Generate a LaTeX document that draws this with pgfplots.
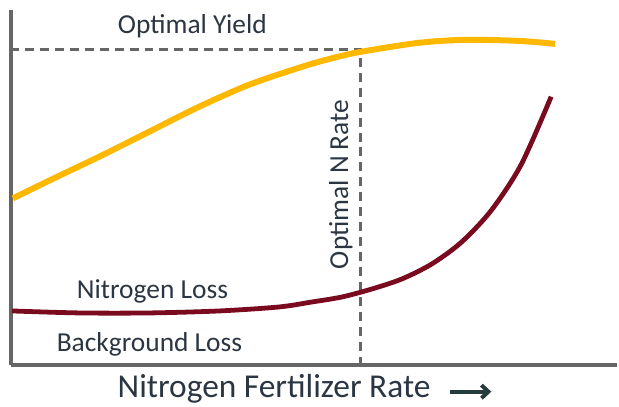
\documentclass[border=0pt]{standalone}
\usepackage{pgfplots}
\pgfplotsset{compat=1.18}
\usetikzlibrary{arrows.meta}
\usepackage{fontspec}
\setmainfont{Carlito}
\definecolor{ygold}{HTML}{FFB800}
\definecolor{nred}{HTML}{7A0A1E}
\definecolor{axgray}{HTML}{666666}
\definecolor{txt}{HTML}{2B3642}
\definecolor{arr}{HTML}{253B3D}
\begin{document}
\begin{tikzpicture}
\begin{axis}[
  scale only axis, width=608pt, height=356pt,
  xmin=0, xmax=608, ymin=0, ymax=356,
  axis x line=bottom, axis y line=left,
  axis line style={-, draw=axgray, line width=4.2pt},
  xtick=\empty, ytick=\empty,
  clip=false,
]
\path (axis cs:-11,-40) rectangle (axis cs:608,366);
% dashed guides
\addplot[axgray, line width=3.3pt, dash pattern=on 9pt off 6pt] coordinates {(-1,316) (351,316) (351,-4)};
% yield
\addplot[ygold, line width=6pt, smooth, tension=0.5] coordinates {
(2,167) (45,188) (89,209) (139,234) (189,259) (239,281) (289,298) (320,307) (351,314) (409,323) (456,326) (509,325) (546,322)};
% N loss
\addplot[nred, line width=4.8pt, smooth, tension=0.5] coordinates {
(1,54) (69,52) (139,52) (209,54) (269,58) (302,63) (332,68) (362,76) (392,86) (422,101) (452,123) (482,155) (512,201) (542,269)};
\node[txt, font=\fontsize{27.5}{30}\selectfont] at (axis cs:182,340) {Optimal Yield};
\node[txt, font=\fontsize{27.5}{30}\selectfont] at (axis cs:142,74) {Nitrogen Loss};
\node[txt, font=\fontsize{27.5}{30}\selectfont] at (axis cs:139,20) {Background Loss};
\node[txt, font=\fontsize{27.5}{30}\selectfont, rotate=90] at (axis cs:331,181) {Optimal N Rate};
\node[txt, font=\fontsize{33.5}{36}\selectfont] at (axis cs:264,-24) {Nitrogen Fertilizer Rate};
\draw[arr, line width=4pt, -{Straight Barb[length=7pt,width=13pt]}] (axis cs:441,-27) -- (axis cs:482,-27);
\end{axis}
\end{tikzpicture}
\end{document}
